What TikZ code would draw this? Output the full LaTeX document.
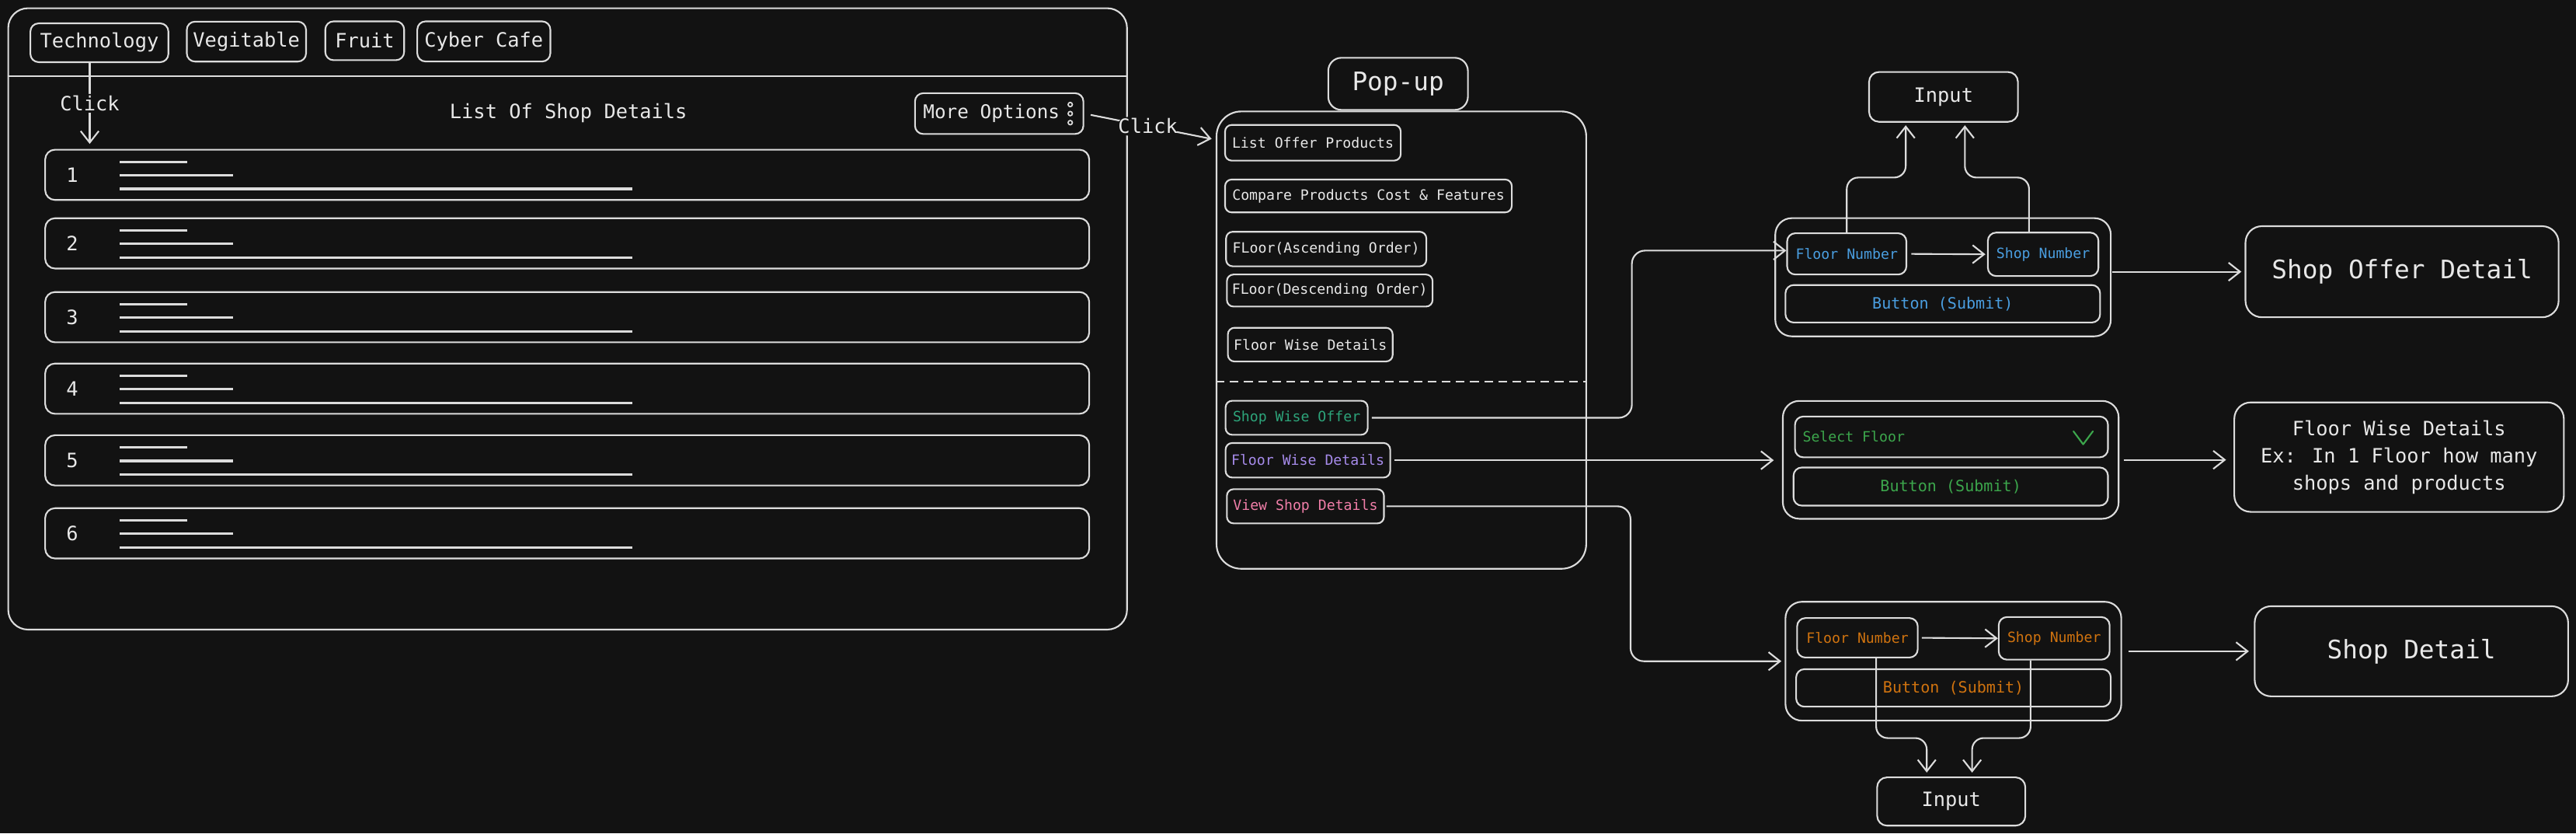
\documentclass[tikz,border=0pt]{standalone}
\usepackage{fontspec}
\setmainfont{DejaVu Sans Mono}
\usetikzlibrary{arrows.meta,calc}
\definecolor{bg}{HTML}{121212}
\definecolor{cline}{HTML}{DCDCDC}
\definecolor{fg}{HTML}{E8E8E8}
\definecolor{cteal}{HTML}{2DA47A}
\definecolor{cpurple}{HTML}{A68BEA}
\definecolor{cpink}{HTML}{F07EA8}
\definecolor{cblue}{HTML}{4A9EE0}
\definecolor{cgreen}{HTML}{3CA64C}
\definecolor{corange}{HTML}{D0730F}
\newcommand\myfb{\fontsize{12}{14}\selectfont}
\newcommand\myfs{\fontsize{8.6}{10}\selectfont}
\newcommand\myfbtn{\fontsize{9.5}{11}\selectfont}
\newcommand\myfbig{\fontsize{15.5}{18}\selectfont}
\newcommand\myfml{\fontsize{12}{16.6}\selectfont}
\tikzset{
  bx/.style={draw=cline, line width=1pt, rounded corners=#1, inner sep=0pt, text=fg, fill=bg},
  bx/.default=5pt,
  sz/.style 2 args={minimum width=#1pt, minimum height=#2pt},
  arr/.style={draw=cline, line width=1pt, rounded corners=7pt, -{Straight Barb[length=7pt,width=11pt]}},
  detail/.style={draw=cline, line width=1.6pt},
  lbl/.style={fill=bg, font=\myfb, text=fg, inner sep=1pt}
}
\begin{document}
\begin{tikzpicture}[x=1pt,y=-1pt]
\fill[bg] (0,0) rectangle (1568,507);
\useasboundingbox (0,0) rectangle (1568,507);

% ---------- main frame ----------
\node[bx=12pt, sz={681}{378}] (frame) at (345.5,194) {};
\coordinate (sepy) at (0,46.5);
\draw[draw=cline, line width=1pt] (frame.west |- sepy) -- (frame.east |- sepy);

\node[bx=5pt, sz={84}{23.6}, font=\myfb] (tech) at (60.5,26) {Technology};
\node[bx=5pt, sz={72.6}{24.3}, font=\myfb] (veg) at (150,25.3) {Vegitable};
\node[bx=5pt, sz={48}{23.6}, font=\myfb] (fruit) at (222,24.8) {Fruit};
\node[bx=5pt, sz={81}{24.4}, font=\myfb] (cyber) at (294.5,25.2) {Cyber Cafe};

\node[font=\myfb, text=fg] (title) at (346,68.6) {List Of Shop Details};

\node[bx=5pt, sz={102.5}{24.8}] (more) at (608.2,69.1) {};
\node[font=\fontsize{11.5}{13}\selectfont, text=fg, inner sep=0pt] (moretxt) at (603.5,69.1) {More Options};
\foreach \dy in {-5.5,0,5.5}
  \draw[draw=cline, line width=0.8pt] ([xshift=-8.5pt, yshift=\dy pt]more.east) circle[radius=1.3pt];

\foreach \i/\cy in {1/106.35,2/148.05,3/192.95,4/236.45,5/280.05,6/324.45}{
  \node[bx=6pt, sz={635.5}{30.6}] (row\i) at (345.25,\cy) {};
  \node[font=\myfb, text=fg, inner sep=0pt] (num\i) at ([xshift=-301.25pt]row\i.center) {\i};
  \draw[detail] ([xshift=-272.25pt, yshift=7.8pt]row\i.center) -- ++(41,0);
  \draw[detail] ([xshift=-272.25pt, yshift=-0.3pt]row\i.center) -- ++(69,0);
  \draw[detail] ([xshift=-272.25pt, yshift=-8.6pt]row\i.center) -- ++(312,0);
}

\draw[arr, shorten >=3pt] ([xshift=-5.9pt]tech.south) -- ([xshift=-5.9pt]tech.south |- row1.north)
  node[pos=0.47, lbl] (click1) {Click};

% ---------- popup ----------
\node[bx=8pt, sz={85}{31.7}, font=\myfbig] (poptitle) at (851,51) {Pop-up};
\node[bx=15pt, sz={225}{278.2}] (pop) at (853,206.9) {};
\coordinate (dashy) at (0,232);
\draw[draw=cline, line width=1pt, dash pattern=on 5.3pt off 3.3pt] (pop.west |- dashy) -- (pop.east |- dashy);

\draw[arr, shorten <=4pt] (more.east) -- ([shift={(-2.5,17.2)}]pop.north west)
  node[midway, lbl] (click2) {Click};

\node[bx=4pt, sz={106.9}{21.7}, font=\myfs] (lop) at (799.15,86.85) {List Offer Products};
\node[bx=4pt, sz={174.5}{20}, font=\myfs] (cmp) at (832.95,119.2) {Compare Products Cost \& Features};
\node[bx=4pt, sz={121.9}{21}, font=\myfs] (asc) at (807.25,151.5) {FLoor(Ascending Order)};
\node[bx=4pt, sz={125.2}{19.5}, font=\myfs] (desc) at (809.4,176.75) {FLoor(Descending Order)};
\node[bx=4pt, sz={100.3}{20.5}, font=\myfs] (fwda) at (797.55,209.65) {Floor Wise Details};
\node[bx=4pt, sz={86.5}{20.7}, font=\myfs, text=cteal] (swo) at (789.25,254.15) {Shop Wise Offer};
\node[bx=4pt, sz={100.2}{21}, font=\myfs, text=cpurple] (fwdb) at (796.1,280) {Floor Wise Details};
\node[bx=4pt, sz={95.6}{20.8}, font=\myfs, text=cpink] (vsd) at (794.6,308) {View Shop Details};

% ---------- group 1 ----------
\node[bx=6pt, sz={90.6}{30.3}, font=\myfb] (in1) at (1183,58.95) {Input};
\node[bx=10pt, sz={204.2}{71.9}] (g1) at (1182.7,168.65) {};
\node[bx=5pt, sz={72.6}{25.1}, font=\myfs, text=cblue] (fn1) at (1124.1,154.45) {Floor Number};
\node[bx=5pt, sz={67.3}{26.4}, font=\myfs, text=cblue] (sn1) at (1243.65,154.7) {Shop Number};
\node[bx=5pt, sz={191.5}{22.8}, font=\myfbtn, text=cblue] (bt1) at (1182.55,184.8) {Button (Submit)};
\node[bx=10pt, sz={190.6}{55.4}, font=\myfbig] (sod) at (1462.1,165.3) {Shop Offer Detail};

% ---------- group 2 ----------
\node[bx=10pt, sz={204.4}{71.7}] (g2) at (1187.4,279.75) {};
\node[bx=5pt, sz={190.5}{24.8}] (sel) at (1187.85,265.8) {};
\node[font=\myfs, text=cgreen, anchor=west, inner sep=0pt] (seltxt) at ([xshift=5pt]sel.west) {Select Floor};
\draw[cgreen, line width=1pt, line cap=round, line join=round]
  ([shift={(-21.5,-3.4)}]sel.east) -- ([shift={(-15.6,4.5)}]sel.east) -- ([shift={(-9.7,-3.4)}]sel.east);
\node[bx=5pt, sz={191.4}{23.2}, font=\myfbtn, text=cgreen] (bt2) at (1187.4,296) {Button (Submit)};
\node[bx=10pt, sz={200.6}{66.6}, font=\myfml, align=center] (fwdo) at (1460.3,278.1)
  {Floor Wise Details\\Ex: In 1 Floor how many\\shops and products};

% ---------- group 3 ----------
\node[bx=10pt, sz={204.4}{72.3}] (g3) at (1189,402.25) {};
\node[bx=5pt, sz={73.4}{24}, font=\myfs, text=corange] (fn3) at (1130.6,388) {Floor Number};
\node[bx=5pt, sz={67.5}{25.9}, font=\myfs, text=corange] (sn3) at (1250.35,388.35) {Shop Number};
\node[bx=5pt, sz={191.5}{22.8}, font=\myfbtn, text=corange] (bt3) at (1189.05,418.5) {Button (Submit)};
\node[bx=6pt, sz={90.2}{29.4}, font=\myfb] (in2) at (1187.7,487.6) {Input};
\node[bx=10pt, sz={190.8}{54.8}, font=\myfbig] (sd) at (1467.8,396.2) {Shop Detail};

% ---------- connectors ----------
\draw[arr, rounded corners=8pt, shorten <=2pt] (swo.east) -| ([xshift=-94pt, yshift=2pt]fn1.west) -- ([yshift=2pt]fn1.west);
\draw[arr, shorten <=2pt, shorten >=5pt] (fwdb.east) -- (fwdb.east -| g2.west);
\draw[arr, rounded corners=8pt, shorten <=1pt, shorten >=2pt] (vsd.east) -| ([xshift=-93.8pt]g3.west) -- (g3.west);

\coordinate (mid1) at (1183,108);
\draw[arr] (fn1.north) |- ([xshift=-23pt]in1.south |- mid1) -- ([xshift=-23pt, yshift=-1.6pt]in1.south);
\draw[arr] ([xshift=-8.6pt]sn1.north) |- ([xshift=13pt]in1.south |- mid1) -- ([xshift=13pt, yshift=-1.6pt]in1.south);
\draw[arr, shorten <=2.5pt, shorten >=1pt] (fn1.east) -- (sn1.west);
\draw[arr, shorten <=0.5pt, shorten >=2pt] (g1.east |- sod.west) -- (sod.west);

\draw[arr, shorten <=2.5pt, shorten >=4.5pt] (g2.east) -- (g2.east -| fwdo.west);

\coordinate (mid2) at (1187.7,449);
\draw[arr] ([xshift=11.4pt]fn3.south) |- ([xshift=-14.9pt]in2.north |- mid2) -- ([xshift=-14.9pt, yshift=2.4pt]in2.north);
\draw[arr] ([xshift=-14.35pt]sn3.south) |- ([xshift=12.7pt]in2.north |- mid2) -- ([xshift=12.7pt, yshift=2.4pt]in2.north);
\draw[arr, shorten <=2pt] (fn3.east) -- (sn3.west);
\draw[arr, shorten <=4pt, shorten >=3pt] (g3.east |- sd.west) -- (sd.west);
\end{tikzpicture}
\end{document}
